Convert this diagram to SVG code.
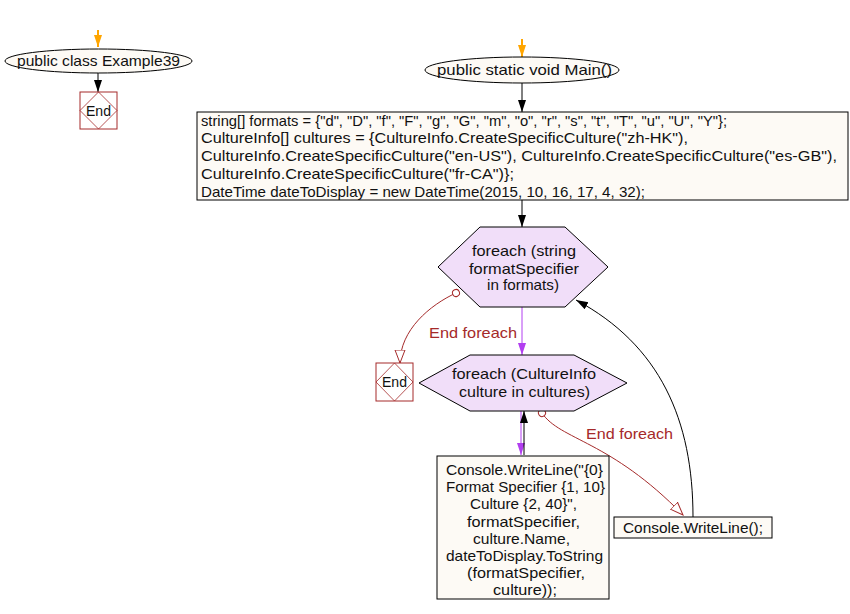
<svg xmlns="http://www.w3.org/2000/svg" width="850" height="614" viewBox="0 0 850 614">
<style>
text{font-family:"Liberation Sans",Arial,sans-serif;font-size:14.5px;fill:#111}
.c{text-anchor:middle}
.term{fill:#fdfaf5;stroke:#000;stroke-width:1}
.box{fill:#fdfaf5;stroke:#000;stroke-width:1}
.loop{fill:#f1def9;stroke:#000;stroke-width:1}
.end{fill:#fff;stroke:#a52a2a;stroke-width:1}
.endd{fill:none;stroke:#a52a2a;stroke-width:0.8}
.red{fill:#a52a2a}
.e{fill:none;stroke:#000;stroke-width:1}
.er{fill:none;stroke:#a52a2a;stroke-width:1}
.ep{fill:none;stroke:#b23ef0;stroke-width:1}
.eo{fill:none;stroke:#ffa500;stroke-width:2}
</style>
<defs>
<marker id="ab" markerUnits="userSpaceOnUse" markerWidth="12" markerHeight="10" refX="12" refY="5" orient="auto"><path d="M0,1 L12,5 L0,9 z" fill="#000"/></marker>
<marker id="ap" markerUnits="userSpaceOnUse" markerWidth="12" markerHeight="10" refX="12" refY="5" orient="auto"><path d="M0,1 L12,5 L0,9 z" fill="#b23ef0"/></marker>
<marker id="ao" markerUnits="userSpaceOnUse" markerWidth="12" markerHeight="10" refX="12" refY="5" orient="auto"><path d="M0,1 L12,5 L0,9 z" fill="#ffa500"/></marker>
<marker id="ar" markerUnits="userSpaceOnUse" markerWidth="14" markerHeight="12" refX="13" refY="6" orient="auto"><path d="M0,1 L13,6 L0,11 z" fill="#fff" stroke="#a52a2a" stroke-width="1"/></marker>
<marker id="cr" markerUnits="userSpaceOnUse" markerWidth="10" markerHeight="10" refX="5" refY="5" orient="auto"><circle cx="5" cy="5" r="3.5" fill="#fff" stroke="#a52a2a" stroke-width="1"/></marker>
</defs>

<g id="connectors">
<line class="eo" x1="98" y1="30" x2="98" y2="47" marker-end="url(#ao)"/>
<line class="e" x1="98" y1="73" x2="98" y2="92" marker-end="url(#ab)"/>
<line class="eo" x1="522" y1="39" x2="522" y2="57" marker-end="url(#ao)"/>
<line class="e" x1="522" y1="83" x2="522" y2="112" marker-end="url(#ab)"/>
<line class="e" x1="522" y1="200" x2="522" y2="227" marker-end="url(#ab)"/>
<line class="ep" x1="522" y1="307" x2="522" y2="355" marker-end="url(#ap)"/>
<line class="ep" x1="521" y1="411" x2="521" y2="455" marker-end="url(#ap)"/>
<line class="e" x1="524" y1="455" x2="524" y2="411" marker-end="url(#ab)"/>
<path class="er" d="M456,293 C430,305 400,330 400,363" marker-start="url(#cr)" marker-end="url(#ar)"/>
<text class="red" x="429" y="338" textLength="88" lengthAdjust="spacingAndGlyphs">End foreach</text>
<path class="er" d="M542,413 C560,440 610,440 683,515" marker-start="url(#cr)" marker-end="url(#ar)"/>
<text class="red" x="586" y="439" textLength="87" lengthAdjust="spacingAndGlyphs">End foreach</text>
<path class="e" d="M693,517 C693,420 660,345 576,300" marker-end="url(#ab)"/>
</g>

<g id="class">
<ellipse class="term" cx="98.5" cy="61" rx="93.5" ry="12"/>
<text x="17" y="66" textLength="163" lengthAdjust="spacingAndGlyphs">public class Example39</text>
</g>
<g id="end1">
<rect class="end" x="80" y="92" width="37" height="37"/>
<path class="endd" d="M98.5,92 L117,110.5 L98.5,129 L80,110.5 z"/>
<text x="86" y="116" textLength="25" lengthAdjust="spacingAndGlyphs">End</text>
</g>
<g id="main">
<ellipse class="term" cx="522" cy="70" rx="97" ry="13"/>
<text x="437" y="75" textLength="175" lengthAdjust="spacingAndGlyphs">public static void Main()</text>
</g>
<g id="init">
<rect class="box" x="197" y="112" width="651" height="88"/>
<text x="201" y="126" textLength="526" lengthAdjust="spacingAndGlyphs">string[] formats = {"d", "D", "f", "F", "g", "G", "m", "o", "r", "s", "t", "T", "u", "U", "Y"};</text>
<text x="201" y="143" textLength="487" lengthAdjust="spacingAndGlyphs">CultureInfo[] cultures = {CultureInfo.CreateSpecificCulture("zh-HK"),</text>
<text x="201" y="161" textLength="636" lengthAdjust="spacingAndGlyphs">CultureInfo.CreateSpecificCulture("en-US"), CultureInfo.CreateSpecificCulture("es-GB"),</text>
<text x="201" y="179" textLength="313" lengthAdjust="spacingAndGlyphs">CultureInfo.CreateSpecificCulture("fr-CA")};</text>
<text x="201" y="197" textLength="444" lengthAdjust="spacingAndGlyphs">DateTime dateToDisplay = new DateTime(2015, 10, 16, 17, 4, 32);</text>
</g>
<g id="foreach1">
<polygon class="loop" points="438,267 480,227 565,227 608,267 565,307 480,307"/>
<text x="472" y="256" textLength="104" lengthAdjust="spacingAndGlyphs">foreach (string</text>
<text x="469" y="274" textLength="110" lengthAdjust="spacingAndGlyphs">formatSpecifier</text>
<text x="487" y="290" textLength="72" lengthAdjust="spacingAndGlyphs">in formats)</text>
</g>
<g id="end2">
<rect class="end" x="376" y="363" width="37" height="38"/>
<path class="endd" d="M394.5,363 L413,382 L394.5,401 L376,382 z"/>
<text x="382" y="387" textLength="25" lengthAdjust="spacingAndGlyphs">End</text>
</g>
<g id="foreach2">
<polygon class="loop" points="419,383 470,355 574,355 627,383 574,411 470,411"/>
<text x="452" y="379" textLength="144" lengthAdjust="spacingAndGlyphs">foreach (CultureInfo</text>
<text x="459" y="397" textLength="131" lengthAdjust="spacingAndGlyphs">culture in cultures)</text>
</g>
<g id="write1">
<rect class="box" x="437" y="456" width="172" height="143"/>
<text x="446" y="475" textLength="157" lengthAdjust="spacingAndGlyphs">Console.WriteLine("{0}</text>
<text x="446" y="492" textLength="159" lengthAdjust="spacingAndGlyphs">Format Specifier {1, 10}</text>
<text x="470" y="509" textLength="107" lengthAdjust="spacingAndGlyphs">Culture {2, 40}",</text>
<text x="467" y="527" textLength="113" lengthAdjust="spacingAndGlyphs">formatSpecifier,</text>
<text x="473" y="544" textLength="97" lengthAdjust="spacingAndGlyphs">culture.Name,</text>
<text x="446" y="561" textLength="157" lengthAdjust="spacingAndGlyphs">dateToDisplay.ToString</text>
<text x="467" y="578" textLength="118" lengthAdjust="spacingAndGlyphs">(formatSpecifier,</text>
<text x="493" y="595" textLength="64" lengthAdjust="spacingAndGlyphs">culture));</text>
</g>
<g id="write2">
<rect class="box" x="614" y="517" width="158" height="21"/>
<text x="623" y="533" textLength="140" lengthAdjust="spacingAndGlyphs">Console.WriteLine();</text>
</g>
</svg>
